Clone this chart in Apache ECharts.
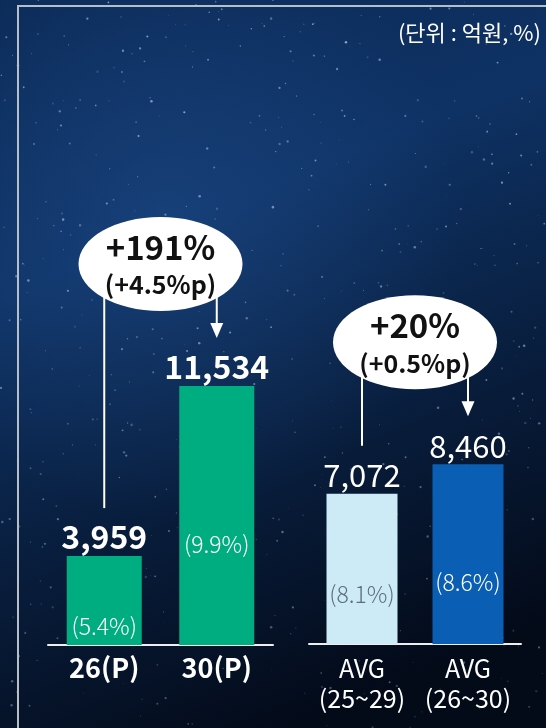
<!DOCTYPE html>
<html>
<head>
<meta charset="utf-8">
<script src="https://cdn.jsdelivr.net/npm/echarts@6/dist/echarts.min.js"></script>
<style>
  html, body { margin: 0; padding: 0; background: #07142b; }
  #chart { width: 546px; height: 728px; }
</style>
</head>
<body>
<div id="chart"></div>
<script>
"use strict";

// 데이터
var leftCategories = ["26(P)", "30(P)"];
var leftValues = [3959, 11534];
var leftShares = ["5.4", "9.9"];

var rightCategories = ["AVG\n(25~29)", "AVG\n(26~30)"];
var rightValues = [7072, 8460];
var rightShares = ["8.1", "8.6"];

var growthMain = ["+191%", "+20%"];
var growthSub = ["(+4.5%p)", "(+0.5%p)"];
var unitText = "(단위 : 억원, %)";

// 스타일
var FONT = "Noto Sans CJK KR";
var GREEN = "#00ad80";
var LIGHT = "#cdebf7";
var BLUE = "#0a5fb5";
// 막대 위쪽에서 퍼센트 라벨 중심까지의 거리
var leftShareOffset = [70, 158];
var rightShareOffset = [101, 118];
var rightShareColor = ["#5e6e80", "#ffffff"];

var chart = echarts.init(document.getElementById("chart"), null, { renderer: "canvas" });

function fmt(v) {
  return v.toLocaleString("en-US");
}

function shareItems(values, shares, offsets, colors) {
  return values.map(function(v, i) {
    return {
      value: v,
      label: {
        position: ["50%", offsets[i]],
        formatter: "(" + shares[i] + "%)",
        color: colors ? colors[i] : "#ffffff"
      }
    };
  });
}

var shareLabel = {
  show: true,
  align: "center",
  verticalAlign: "middle",
  fontFamily: FONT,
  fontSize: 23,
  fontWeight: 300
};

var option = {
  animation: false,
  textStyle: { fontFamily: FONT },
  grid: [
    { left: 48, width: 225, top: 375.5, height: 269.5 },
    { left: 309, width: 212, top: 452.75, height: 191.25 }
  ],
  xAxis: [
    {
      gridIndex: 0,
      type: "category",
      data: leftCategories,
      axisLine: { lineStyle: { color: "#eeeeee", width: 2 } },
      axisTick: { show: false },
      axisLabel: {
        interval: 0,
        color: "#ffffff",
        fontFamily: FONT,
        fontSize: 27,
        fontWeight: "bold",
        margin: 9
      }
    },
    {
      gridIndex: 1,
      type: "category",
      data: rightCategories,
      axisLine: { lineStyle: { color: "#eeeeee", width: 2 } },
      axisTick: { show: false },
      axisLabel: {
        interval: 0,
        color: "#ffffff",
        fontFamily: FONT,
        fontSize: 25,
        fontWeight: "normal",
        lineHeight: 30,
        margin: 9
      }
    }
  ],
  yAxis: [
    { gridIndex: 0, type: "value", min: 0, max: 12000, show: false, splitLine: { show: false } },
    { gridIndex: 1, type: "value", min: 0, max: 9000, show: false, splitLine: { show: false } }
  ],
  series: [
    {
      type: "bar",
      xAxisIndex: 0,
      yAxisIndex: 0,
      data: leftValues,
      barWidth: 75,
      barGap: "-100%",
      itemStyle: { color: GREEN },
      label: {
        show: true,
        position: "top",
        distance: 3,
        color: "#ffffff",
        fontFamily: FONT,
        fontSize: 32,
        fontWeight: "bold",
        formatter: function(p) { return fmt(p.value); }
      },
      z: 2
    },
    {
      type: "bar",
      xAxisIndex: 0,
      yAxisIndex: 0,
      data: shareItems(leftValues, leftShares, leftShareOffset),
      barWidth: 75,
      barGap: "-100%",
      itemStyle: { color: "rgba(0,0,0,0)" },
      label: shareLabel,
      silent: true,
      z: 3
    },
    {
      type: "bar",
      xAxisIndex: 1,
      yAxisIndex: 1,
      data: rightValues.map(function(v, i) {
        return { value: v, itemStyle: { color: i === 0 ? LIGHT : BLUE } };
      }),
      barWidth: 71,
      barGap: "-100%",
      label: {
        show: true,
        position: "top",
        distance: 3,
        color: "#ffffff",
        fontFamily: FONT,
        fontSize: 31,
        fontWeight: "normal",
        formatter: function(p) { return fmt(p.value); }
      },
      z: 2
    },
    {
      type: "bar",
      xAxisIndex: 1,
      yAxisIndex: 1,
      data: shareItems(rightValues, rightShares, rightShareOffset, rightShareColor),
      barWidth: 71,
      barGap: "-100%",
      itemStyle: { color: "rgba(0,0,0,0)" },
      label: shareLabel,
      silent: true,
      z: 3
    }
  ]
};

chart.setOption(option);

/* ===================== 배경, 말풍선 ===================== */
function buildGraphics() {
  var g = [];

  // 배경
  g.push({
    type: "rect",
    shape: { x: 0, y: 0, width: 546, height: 728 },
    style: {
      fill: new echarts.graphic.LinearGradient(0, 0, 0.55, 1, [
        { offset: 0, color: "#0b2a57" },
        { offset: 0.35, color: "#0e3264" },
        { offset: 0.7, color: "#081c3a" },
        { offset: 1, color: "#030a18" }
      ])
    },
    z: -20,
    silent: true
  });
  g.push({
    type: "rect",
    shape: { x: 0, y: 0, width: 546, height: 728 },
    style: {
      fill: new echarts.graphic.RadialGradient(0.3, 0.3, 0.55, [
        { offset: 0, color: "rgba(40,90,160,0.35)" },
        { offset: 1, color: "rgba(40,90,160,0)" }
      ])
    },
    z: -19,
    silent: true
  });

  // 별 (고정 시드)
  var seed = 12345;
  function next() {
    seed = (seed * 16807) % 2147483647;
    return seed / 2147483647;
  }
  for (var s = 0; s < 520; s++) {
    var sx = next() * 546;
    var sy = next() * 728;
    var sr = 0.4 + next() * 0.9;
    var so = 0.15 + next() * 0.55 * (1 - sy / 1100);
    g.push({
      type: "circle",
      shape: { cx: sx, cy: sy, r: sr },
      style: { fill: "rgba(200,220,255," + so.toFixed(2) + ")" },
      z: -18,
      silent: true
    });
  }

  // 테두리
  g.push({
    type: "polyline",
    shape: { points: [[18, 728], [18, 6], [546, 6]] },
    style: { stroke: "#b6bec8", lineWidth: 2, fill: null },
    z: -10,
    silent: true
  });

  // 단위
  g.push({
    type: "text",
    style: {
      text: unitText,
      x: 541,
      y: 33,
      align: "right",
      verticalAlign: "middle",
      fill: "#ffffff",
      font: "22px '" + FONT + "'"
    },
    z: 30
  });

  var groups = [
    { grid: 0, values: leftValues },
    { grid: 1, values: rightValues }
  ];

  groups.forEach(function(grp, k) {
    var p0 = chart.convertToPixel({ gridIndex: grp.grid }, [0, grp.values[0]]);
    var p1 = chart.convertToPixel({ gridIndex: grp.grid }, [1, grp.values[1]]);
    var cx = (p0[0] + p1[0]) / 2;
    var cy = Math.min(p0[1], p1[1]) - 122;
    var end0 = p0[1] - 48;
    var tip = p1[1] - 48;

    // 연결선
    g.push({
      type: "line",
      shape: { x1: p0[0], y1: cy, x2: p0[0], y2: end0 },
      style: { stroke: "#ffffff", lineWidth: 2 },
      z: 10
    });
    g.push({
      type: "line",
      shape: { x1: p1[0], y1: cy, x2: p1[0], y2: tip - 14 },
      style: { stroke: "#ffffff", lineWidth: 2 },
      z: 10
    });
    g.push({
      type: "polygon",
      shape: { points: [[p1[0] - 6.5, tip - 15], [p1[0] + 6.5, tip - 15], [p1[0], tip]] },
      style: { fill: "#ffffff" },
      z: 10
    });

    // 말풍선
    g.push({
      type: "ellipse",
      shape: { cx: cx, cy: cy, rx: 82, ry: 47 },
      style: { fill: "#ffffff" },
      z: 20
    });
    g.push({
      type: "text",
      style: {
        text: growthMain[k],
        x: cx,
        y: cy - 17,
        align: "center",
        verticalAlign: "middle",
        fill: "#111111",
        font: "bold 33px '" + FONT + "'"
      },
      z: 21
    });
    g.push({
      type: "text",
      style: {
        text: growthSub[k],
        x: cx,
        y: cy + 21,
        align: "center",
        verticalAlign: "middle",
        fill: "#111111",
        font: "bold 25px '" + FONT + "'"
      },
      z: 21
    });
  });

  return g;
}

chart.setOption({ graphic: buildGraphics() });
</script>
</body>
</html>
